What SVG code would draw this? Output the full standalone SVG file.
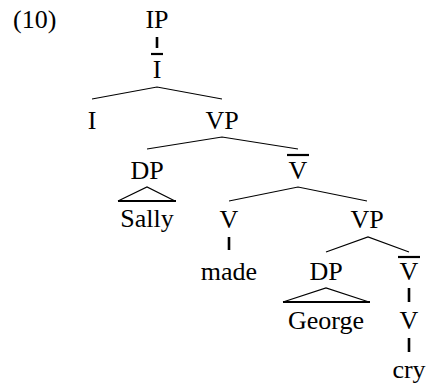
<svg xmlns="http://www.w3.org/2000/svg" width="427" height="385" viewBox="0 0 427 385">
<style>
text{font-family:"Liberation Serif","Times New Roman",serif;font-size:26px;fill:#000;text-anchor:middle}
.b{stroke:#000;stroke-width:1.2;fill:none}
.u{stroke:#000;stroke-width:2.6;fill:none}
.o{stroke:#000;stroke-width:2.2;fill:none}
</style>
<rect width="427" height="385" fill="#fff"/>
<text x="13" y="28" style="text-anchor:start">(10)</text>
<g id="n-IP"><text x="157" y="28">IP</text></g>
<g id="n-Ibar"><line class="o" x1="151" y1="54" x2="163" y2="54"/><text x="157" y="78">I</text></g>
<g id="n-I"><text x="92" y="129">I</text></g>
<g id="n-VP1"><text x="222" y="129">VP</text></g>
<g id="n-DP1"><text x="147" y="179">DP</text></g>
<g id="n-Vbar1"><line class="o" x1="287" y1="155" x2="309" y2="155"/><text x="298" y="179">V</text></g>
<g id="n-Sally"><text x="147" y="227">Sally</text></g>
<g id="n-V1"><text x="229" y="228">V</text></g>
<g id="n-VP2"><text x="367" y="228">VP</text></g>
<g id="n-made"><text x="229" y="280">made</text></g>
<g id="n-DP2"><text x="326" y="280">DP</text></g>
<g id="n-Vbar2"><line class="o" x1="398" y1="257" x2="420" y2="257"/><text x="409" y="280">V</text></g>
<g id="n-George"><text x="326" y="329">George</text></g>
<g id="n-V2"><text x="409" y="329">V</text></g>
<g id="n-cry"><text x="409" y="378">cry</text></g>
<g id="connectors">
<line class="u" x1="157" y1="37" x2="157" y2="48"/>
<polyline class="b" points="92,99 157,87 222,99"/>
<polyline class="b" points="147,149 222,137 298,149"/>
<polyline class="b" points="118,201 147,187 175,201"/>
<line class="o" x1="118" y1="201" x2="176" y2="201"/>
<polyline class="b" points="229,201 298,187 367,201"/>
<line class="u" x1="229" y1="237" x2="229" y2="250"/>
<polyline class="b" points="326,252 368,237 409,252"/>
<polyline class="b" points="283,302 326,288 369,302"/>
<line class="o" x1="283" y1="302" x2="370" y2="302"/>
<line class="u" x1="409" y1="288" x2="409" y2="302"/>
<line class="u" x1="409" y1="338" x2="409" y2="352"/>
</g>
</svg>
